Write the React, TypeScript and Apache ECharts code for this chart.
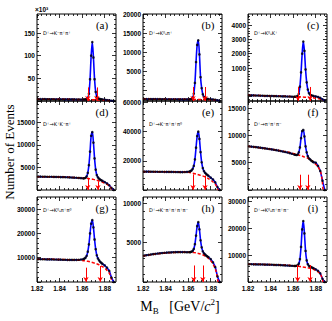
import React, { useEffect, useRef } from "react";
import * as echarts from "echarts";

// bin centres (GeV/c^2)
const xs = [
  1.821, 1.823, 1.825, 1.827, 1.829, 1.831, 1.833, 1.835, 1.837, 1.839, 1.841,
  1.843, 1.845, 1.847, 1.849, 1.851, 1.853, 1.855, 1.857, 1.859, 1.861,
  1.862, 1.863, 1.864, 1.865, 1.866, 1.867, 1.868, 1.869, 1.87, 1.871, 1.872,
  1.873, 1.874, 1.875, 1.876, 1.877, 1.878,
  1.88, 1.882, 1.884, 1.886, 1.888,
];
const bkgX = [1.82, 1.825, 1.83, 1.835, 1.84, 1.845, 1.85, 1.855, 1.86, 1.865, 1.87, 1.875, 1.88, 1.883, 1.885, 1.8865];

// (a) in units of 10^3
const dataA = [4.1, 4.0, 4.0, 4.1, 3.9, 3.9, 3.9, 3.8, 3.8, 3.7, 3.7, 3.7, 3.6, 3.6, 3.5, 3.5, 3.5, 3.4, 3.4, 3.3, 3.3,
  3.4, 3.6, 4.5, 7, 16, 48, 100, 130, 96, 48, 20, 10, 6.5, 5, 4.3, 3.8, 3.4,
  2.8, 2.2, 1.5, 0.6, 0];
const bkgA = [4.0, 4.0, 3.9, 3.9, 3.8, 3.7, 3.6, 3.5, 3.3, 3.1, 2.8, 2.4, 1.8, 1.2, 0.6, 0];

const dataB = [-2250, -2250, -2260, -2260, -2270, -2270, -2280, -2280, -2290, -2290, -2300, -2300, -2300, -2310, -2310, -2320, -2320, -2330, -2330, -2340, -2330,
  -2300, -2200, -1900, -800, 2000, 7500, 12000, 13200, 9500, 3500, 600, -1000, -1700, -2000, -2150, -2200, -2250,
  -2300, -2350, -2420, -2550, -2700];
const bkgB = [-2250, -2260, -2270, -2280, -2290, -2300, -2310, -2320, -2330, -2340, -2350, -2370, -2400, -2450, -2550, -2700];

const dataC = [-900, -910, -910, -920, -920, -930, -930, -940, -940, -950, -950, -960, -960, -970, -970, -980, -980, -990, -990, -1000, -1000,
  -1000, -990, -950, -800, -300, 700, 2000, 2850, 2200, 900, 0, -500, -750, -850, -900, -930, -950,
  -980, -1020, -1080, -1180, -1250];
const bkgC = [-900, -910, -920, -930, -945, -955, -965, -980, -995, -1010, -1030, -1060, -1100, -1150, -1200, -1250];

const dataD = [2950, 2950, 2940, 2940, 2930, 2920, 2920, 2900, 2890, 2880, 2860, 2850, 2830, 2810, 2790, 2760, 2730, 2700, 2660, 2620, 2580,
  2600, 2700, 3000, 3800, 5500, 8500, 12000, 12800, 10500, 7000, 4500, 3300, 2800, 2500, 2300, 2150, 2000,
  1750, 1450, 1050, 450, 0];
const bkgD = [2950, 2940, 2930, 2910, 2880, 2850, 2800, 2740, 2660, 2550, 2350, 2000, 1500, 1100, 650, 0];

const dataE = [12600, 12600, 12600, 12550, 12550, 12550, 12500, 12500, 12500, 12450, 12450, 12400, 12400, 12350, 12300, 12300, 12250, 12250, 12300, 12400, 12600,
  12900, 13400, 14500, 16500, 21000, 29000, 37000, 40000, 35000, 26000, 19000, 15000, 13000, 11800, 11000, 10300, 9700,
  8500, 7200, 5200, 2000, 0];
const bkgE = [12600, 12580, 12560, 12530, 12500, 12460, 12400, 12300, 12100, 11300, 10300, 9000, 6700, 4800, 2800, 0];

const dataF = [8000, 7950, 7900, 7850, 7800, 7750, 7680, 7620, 7560, 7500, 7440, 7370, 7300, 7220, 7140, 7050, 6960, 6860, 6750, 6630, 6500,
  6450, 6400, 6500, 6900, 7800, 9500, 10800, 11000, 9800, 8000, 6900, 6200, 5800, 5600, 5400, 5250, 5100,
  5000, 4400, 3500, 1700, 0];
const bkgF = [8000, 7880, 7750, 7620, 7480, 7320, 7150, 6950, 6700, 6400, 6050, 5600, 4700, 3900, 2800, 0];

const dataG = [9400, 9400, 9350, 9350, 9300, 9300, 9300, 9250, 9250, 9200, 9200, 9150, 9150, 9100, 9100, 9100, 9100, 9100, 9150, 9250, 9400,
  9600, 10000, 10800, 12500, 15500, 20000, 24000, 25500, 22500, 17500, 13500, 11000, 9700, 8900, 8300, 7900, 7500,
  6800, 5900, 4600, 1800, 0];
const bkgG = [9400, 9380, 9350, 9320, 9280, 9230, 9170, 9080, 8900, 8500, 7900, 7100, 5700, 4300, 2700, 0];

const dataH = [3350, 3400, 3450, 3500, 3540, 3580, 3620, 3650, 3680, 3710, 3730, 3750, 3770, 3780, 3790, 3800, 3800, 3800, 3790, 3780, 3780,
  3800, 3850, 3950, 4200, 4800, 5900, 7100, 7600, 6700, 5300, 4400, 3900, 3650, 3500, 3350, 3250, 3150,
  2900, 2500, 1900, 700, 0];
const bkgH = [3300, 3430, 3530, 3610, 3680, 3730, 3770, 3790, 3790, 3740, 3600, 3300, 2700, 2000, 1200, 0];

const dataI = [6600, 6600, 6550, 6550, 6500, 6500, 6500, 6450, 6450, 6400, 6400, 6350, 6300, 6300, 6250, 6200, 6150, 6100, 6050, 6000, 5950,
  5950, 6000, 6200, 6800, 8500, 13000, 19500, 22600, 18000, 11500, 8000, 6600, 6000, 5700, 5500, 5300, 5100,
  4700, 4100, 3200, 1200, 0];
const bkgI = [6600, 6580, 6550, 6500, 6450, 6400, 6330, 6220, 6050, 5800, 5500, 5100, 4300, 3400, 2200, 0];

const allData = [dataA, dataB, dataC, dataD, dataE, dataF, dataG, dataH, dataI];
const allBkg = [bkgA, bkgB, bkgC, bkgD, bkgE, bkgF, bkgG, bkgH, bkgI];

// signal-window arrows (x) and their upper ends (y)
const arrowX = [[1.865, 1.873], [1.8643, 1.875], [1.8643, 1.875], [1.865, 1.874], [1.8643, 1.875], [1.866, 1.873], [1.8634, 1.876], [1.865, 1.873], [1.864, 1.875]];
const arrowTop = [[30, 30], [920, 920], [-320, -320], [2700, 1900], [10700, 10000], [2800, 2800], [5900, 6600], [2100, 2100], [6300, 6300]];

const channels = ["D⁺→K⁻π⁺π⁺", "D⁺→K⁰ₛπ⁺", "D⁺→K⁰ₛK⁺", "D⁺→K⁺K⁻π⁺", "D⁺→K⁻π⁺π⁺π⁰", "D⁺→π⁺π⁺π⁻", "D⁺→K⁰ₛπ⁺π⁰", "D⁺→K⁻π⁺π⁺π⁺π⁻", "D⁺→K⁰ₛπ⁺π⁺π⁻"];
const letters = ["(a)", "(b)", "(c)", "(d)", "(e)", "(f)", "(g)", "(h)", "(i)"];

const yMins = [0, -2760, -1300, 0, 0, 0, 0, 0, 0];
const yMaxs = [192, 20130, 4770, 19700, 61000, 16300, 35000, 10800, 31500];
const yLabelVals = [[50, 100, 150], [5000, 10000, 15000, 20000], [1000, 2000, 3000, 4000], [5000, 10000, 15000], [20000, 40000, 60000], [5000, 10000, 15000], [10000, 20000, 30000], [5000, 10000], [10000, 20000, 30000]];
const yMajorStep = [50, 5000, 1000, 5000, 20000, 5000, 10000, 5000, 10000];
const yMinorStep = [10, 1000, 200, 1000, 4000, 1000, 2000, 1000, 2000];
const xLabelVals = [1.82, 1.84, 1.86, 1.88];

const colLeft = [37, 143, 248];
const colW = 79;
const rowTop = [14, 101, 197];
const rowH = [87, 89, 85];
const chanDy = [19, 23, 13];

function steps(min: number, max: number, step: number) {
  const out: number[] = [];
  const start = Math.ceil(min / step - 1e-9);
  for (let k = start; k * step <= max + 1e-9; k++) out.push(+(k * step).toFixed(6));
  return out;
}

const SERIF = "Liberation Serif";
const SANS = "Liberation Sans";

function buildOption() {
  const grid: any[] = [], xAxis: any[] = [], yAxis: any[] = [], series: any[] = [], graphic: any[] = [];
  const tickStyle = { color: "#000", width: 0.8 };
  const lblFont = { fontSize: 6.5, fontWeight: "bold", fontFamily: SANS, color: "#000" };
  const xMaj = steps(1.82, 1.89, 0.02);
  const xMin = steps(1.82, 1.89, 0.004).filter((v) => !xMaj.some((m) => Math.abs(m - v) < 1e-6));
  for (let i = 0; i < 9; i++) {
    const r = Math.floor(i / 3), c = i % 3;
    grid.push({ left: colLeft[c], top: rowTop[r], width: colW, height: rowH[r], show: true, borderColor: "#000", borderWidth: 1, backgroundColor: "transparent" });
    const xa = (pos: string, vals: number[], len: number, lab: boolean) => ({
      type: "value", gridIndex: i, position: pos, min: 1.82, max: 1.89,
      axisLine: { show: false, onZero: false }, splitLine: { show: false },
      axisTick: { show: true, inside: true, length: len, customValues: vals, lineStyle: tickStyle },
      axisLabel: lab ? { show: true, customValues: xLabelVals, formatter: (v: number) => v.toFixed(2), margin: 3, ...lblFont } : { show: false },
    });
    xAxis.push(xa("bottom", xMaj, 4, r === 2), xa("top", xMaj, 4, false), xa("bottom", xMin, 2, false), xa("top", xMin, 2, false));
    const yMaj = steps(yMins[i], yMaxs[i], yMajorStep[i]);
    const yMin = steps(yMins[i], yMaxs[i], yMinorStep[i]).filter((v) => !yMaj.some((m) => Math.abs(m - v) < 1e-6));
    const ya = (pos: string, vals: number[], len: number, lab: boolean) => ({
      type: "value", gridIndex: i, position: pos, min: yMins[i], max: yMaxs[i],
      axisLine: { show: false, onZero: false }, splitLine: { show: false },
      axisTick: { show: true, inside: true, length: len, customValues: vals, lineStyle: tickStyle },
      axisLabel: lab ? { show: true, customValues: yLabelVals[i], formatter: (v: number) => String(v), margin: 2, ...lblFont } : { show: false },
    });
    yAxis.push(ya("left", yMaj, 4, true), ya("right", yMaj, 4, false), ya("left", yMin, 2, false), ya("right", yMin, 2, false));
    const xi = i * 4, yi = i * 4;
    const d = allData[i];
    series.push({
      type: "line", xAxisIndex: xi, yAxisIndex: yi, data: xs.map((x, k) => [x, d[k]]),
      showSymbol: false, smooth: 0.3, lineStyle: { color: "#0000ff", width: 1.6 }, z: 2, emphasis: { disabled: true }, silent: true,
    });
    const b = allBkg[i];
    series.push({
      type: "line", xAxisIndex: xi, yAxisIndex: yi, data: bkgX.map((x, k) => [x, b[k]]),
      showSymbol: false, smooth: 0.4, lineStyle: { color: "#ff0000", width: 1.5, type: [3, 2] }, z: 3, emphasis: { disabled: true }, silent: true,
      markLine: {
        silent: true, symbol: ["none", "arrow"], symbolSize: [4, 5], label: { show: false },
        lineStyle: { color: "#ff0000", width: 1, type: "solid" },
        data: arrowX[i].map((x, k) => [{ coord: [x, arrowTop[i][k]] }, { coord: [x, yMins[i]] }]),
      },
    });
    series.push({
      type: "scatter", xAxisIndex: xi, yAxisIndex: yi, data: xs.map((x, k) => [x, d[k]]),
      symbolSize: 2.6, itemStyle: { color: "#000" }, z: 4, emphasis: { disabled: true }, silent: true,
    });
    graphic.push({
      type: "text", x: colLeft[c] + 65, y: rowTop[r] + 11,
      style: { text: letters[i], fontSize: 11, fontFamily: SERIF, fill: "#000", textAlign: "center", textVerticalAlign: "middle" },
    });
    graphic.push({
      type: "text", x: colLeft[c] + 6, y: rowTop[r] + chanDy[r],
      style: { text: channels[i], fontSize: 5, fontFamily: "DejaVu Sans", fill: "#000", textAlign: "left", textVerticalAlign: "middle" },
    });
  }
  graphic.push({
    type: "text", x: 35, y: 9,
    style: { text: "×10³", fontSize: 6.5, fontFamily: SANS, fontWeight: "bold", fill: "#000", textAlign: "left", textVerticalAlign: "middle" },
  });
  graphic.push({
    type: "text", x: 9, y: 152, rotation: Math.PI / 2,
    style: { text: "Number of Events", fontSize: 13, fontFamily: SERIF, fill: "#000", textAlign: "center", textVerticalAlign: "middle" },
  });
  graphic.push({
    type: "text", x: 180, y: 306,
    style: {
      text: "{m|M}{s|B}{n|   [GeV/}{i|c}{p|2}{n|]}",
      textAlign: "center", textVerticalAlign: "middle",
      rich: {
        m: { fontSize: 14, fontFamily: SERIF, fill: "#000", lineHeight: 18, verticalAlign: "middle" },
        s: { fontSize: 9, fontFamily: SERIF, fill: "#000", lineHeight: 9, verticalAlign: "bottom" },
        n: { fontSize: 14, fontFamily: SERIF, fill: "#000", lineHeight: 18, verticalAlign: "middle" },
        i: { fontSize: 14, fontFamily: SERIF, fontStyle: "italic", fill: "#000", lineHeight: 18, verticalAlign: "middle" },
        p: { fontSize: 9, fontFamily: SERIF, fill: "#000", lineHeight: 9, verticalAlign: "top" },
      },
    },
  });
  return { animation: false, backgroundColor: "#fff", grid, xAxis, yAxis, series, graphic };
}

export default function App() {
  const ref = useRef<HTMLDivElement>(null);
  useEffect(() => {
    if (!ref.current) return;
    const chart = echarts.init(ref.current, null, { renderer: "svg" });
    chart.setOption(buildOption() as any);
    return () => chart.dispose();
  }, []);
  return <div ref={ref} style={{ position: "absolute", left: 0, top: 0, width: 332, height: 321, background: "#fff" }} />;
}
